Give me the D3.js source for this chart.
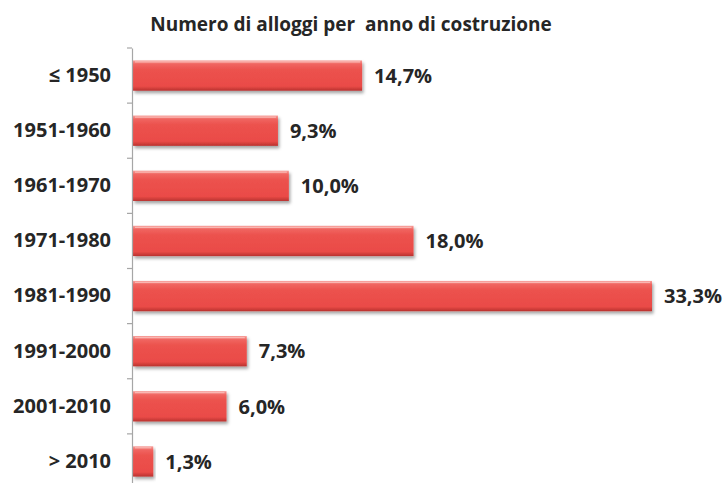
<!DOCTYPE html>
<html>
<head>
<meta charset="utf-8">
<script src="https://cdn.jsdelivr.net/npm/d3@7"></script>
<style>
  html, body { margin: 0; padding: 0; background: #ffffff; }
  svg { display: block; }
</style>
</head>
<body>
<svg id="chart" width="725" height="483"></svg>
<script>
const title = "Numero di alloggi per  anno di costruzione";
const categories = ["≤ 1950", "1951-1960", "1961-1970", "1971-1980", "1981-1990", "1991-2000", "2001-2010", "> 2010"];
const values = [14.7, 9.3, 10.0, 18.0, 33.3, 7.3, 6.0, 1.3];
const valueLabels = ["14,7%", "9,3%", "10,0%", "18,0%", "33,3%", "7,3%", "6,0%", "1,3%"];

const W = 725, H = 483;
const margin = { left: 133, top: 48, bottom: -6 };
const svg = d3.select("#chart");
const font = "'Open Sans', 'Liberation Sans', sans-serif";

const x = d3.scaleLinear().domain([0, 33.3]).range([margin.left, 652]);
const y = d3.scaleBand().domain(categories).range([margin.top, H - margin.bottom]).paddingInner(0.45).paddingOuter(0.225);

const defs = svg.append("defs");
const grad = defs.append("linearGradient").attr("id", "barGrad").attr("x1", 0).attr("y1", 0).attr("x2", 0).attr("y2", 1);
grad.append("stop").attr("offset", "0%").attr("stop-color", "#f7a09b");
grad.append("stop").attr("offset", "12%").attr("stop-color", "#f06560");
grad.append("stop").attr("offset", "30%").attr("stop-color", "#ec524e");
grad.append("stop").attr("offset", "85%").attr("stop-color", "#ea4b47");
grad.append("stop").attr("offset", "100%").attr("stop-color", "#b9322f");
const filt = defs.append("filter").attr("id", "shadow").attr("x", "-5%").attr("y", "-20%").attr("width", "115%").attr("height", "160%");
filt.append("feDropShadow").attr("dx", 1.5).attr("dy", 2.5).attr("stdDeviation", 1.6).attr("flood-color", "#000").attr("flood-opacity", 0.35);

// title
svg.append("text")
  .attr("x", 351).attr("y", 31)
  .attr("text-anchor", "middle")
  .attr("font-family", font).attr("font-weight", "bold").attr("font-size", 19)
  .attr("fill", "#262626")
  .style("white-space", "pre")
  .text(title);

// bars
svg.append("g").selectAll("rect").data(categories).join("rect")
  .attr("x", x(0))
  .attr("y", d => y(d))
  .attr("width", (d, i) => x(values[i]) - x(0))
  .attr("height", y.bandwidth())
  .attr("fill", "url(#barGrad)")
  .attr("filter", "url(#shadow)");

// bevel highlight lines
svg.append("g").selectAll("line").data(categories).join("line")
  .attr("x1", x(0) + 2).attr("x2", (d, i) => x(values[i]) - 2)
  .attr("y1", d => y(d) + 1.5).attr("y2", d => y(d) + 1.5)
  .attr("stroke", "#fbc3bf").attr("stroke-width", 1.2).attr("opacity", 0.8);

// axis
const axis = d3.axisLeft(y).tickSize(0).tickPadding(21).tickSizeOuter(0);
const gAxis = svg.append("g").attr("transform", `translate(${margin.left - 1},0)`).call(axis);
gAxis.select(".domain").attr("stroke", "#a6a6a6").attr("stroke-width", 1.2);
gAxis.selectAll("text")
  .attr("font-family", font).attr("font-weight", "bold").attr("font-size", 20)
  .attr("fill", "#262626");

// category boundary ticks
const boundaries = categories.map(d => y(d) - y.step() * y.paddingInner() / 2).concat([y(categories[categories.length - 1]) + y.bandwidth() + y.step() * y.paddingInner() / 2]);
svg.append("g").selectAll("line").data(boundaries).join("line")
  .attr("x1", margin.left - 6).attr("x2", margin.left - 1)
  .attr("y1", d => d).attr("y2", d => d)
  .attr("stroke", "#a6a6a6").attr("stroke-width", 1.2);

// value labels
svg.append("g").selectAll("text").data(categories).join("text")
  .attr("x", (d, i) => x(values[i]) + 12)
  .attr("y", d => y(d) + y.bandwidth() / 2)
  .attr("dy", "0.36em")
  .attr("font-family", font).attr("font-weight", "bold").attr("font-size", 20)
  .attr("fill", "#262626")
  .text((d, i) => valueLabels[i]);
</script>
</body>
</html>
